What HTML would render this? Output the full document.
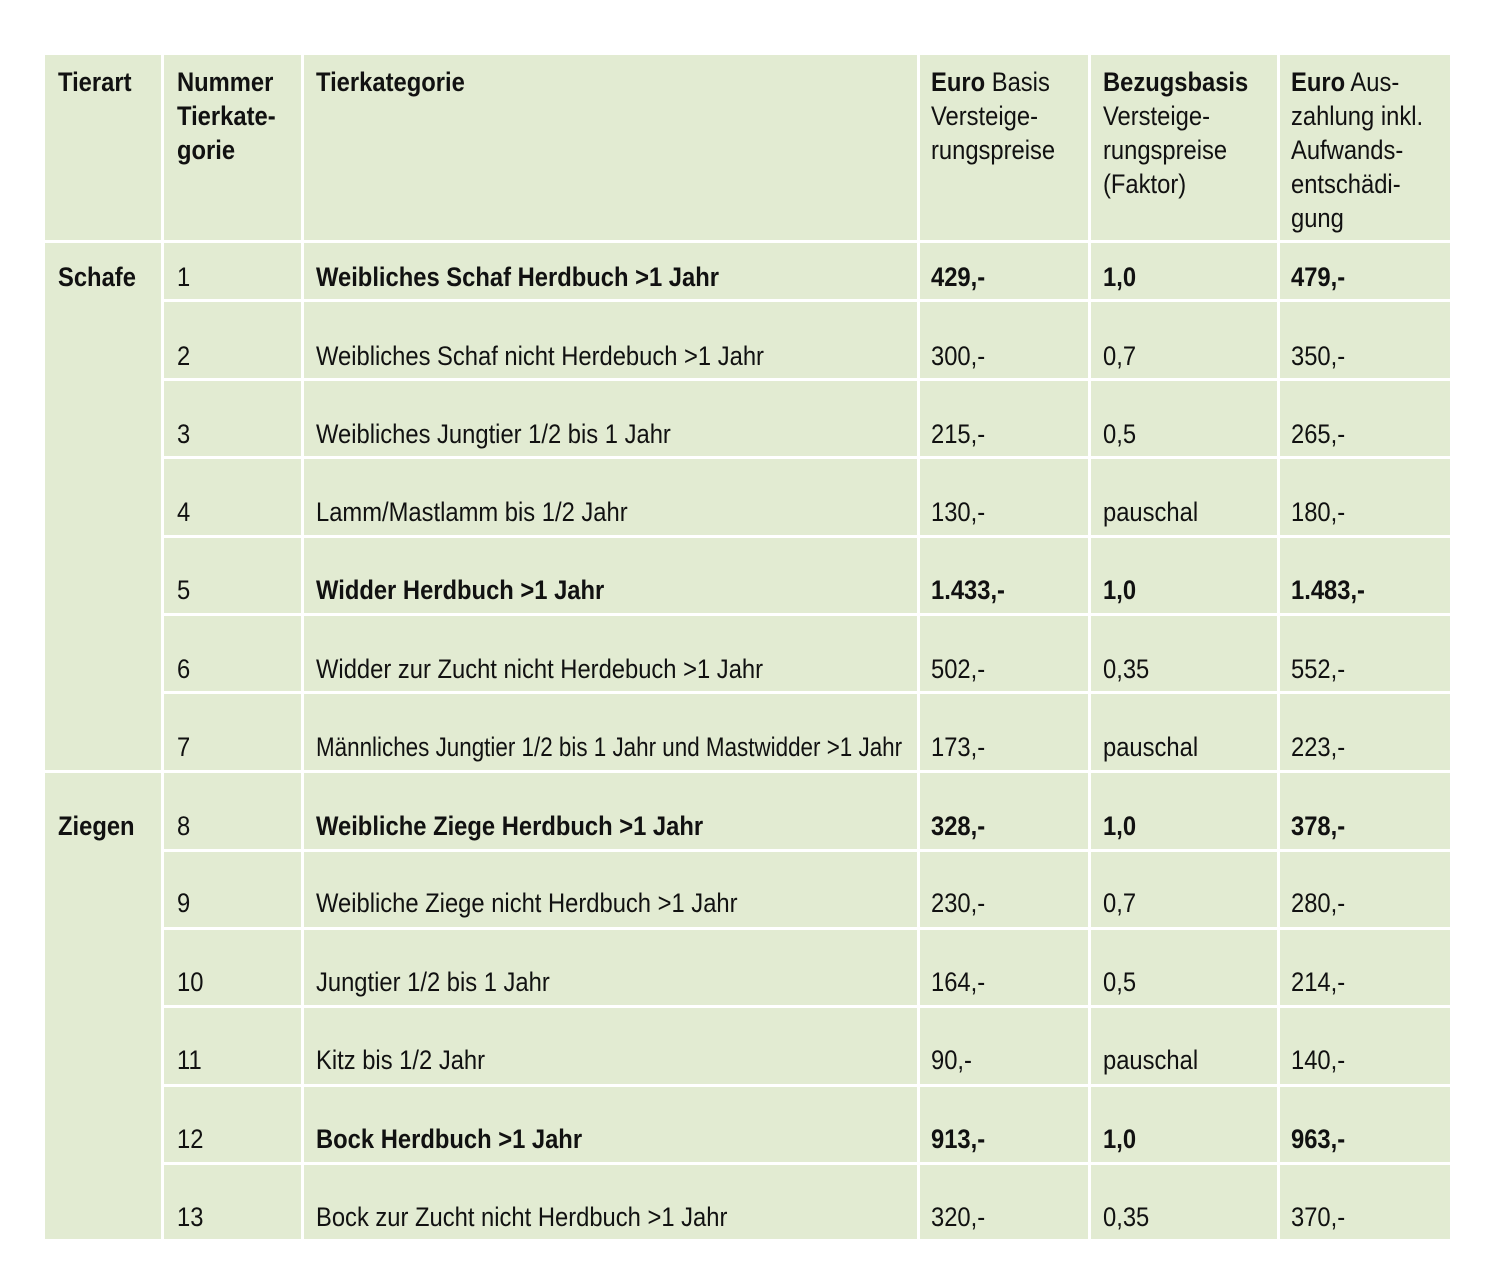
<!DOCTYPE html>
<html><head><meta charset="utf-8"><style>
body{margin:0;width:1500px;height:1288px;background:#fff;position:relative;overflow:hidden;font-family:"Liberation Sans",sans-serif;color:#111}
.bg{position:absolute;left:45px;top:55px;width:1405px;height:1184px;background:#e2ebd2}
.v{position:absolute;top:55px;height:1184px;width:3px;background:#fff}
.h{position:absolute;height:3px;background:#fff}
.t{position:absolute;font-size:27px;line-height:34px;white-space:nowrap;transform:scaleX(0.88);transform-origin:left center}
b{font-weight:bold}
</style></head><body>
<div class="bg"></div>
<div class="v" style="left:161px"></div>
<div class="v" style="left:301px"></div>
<div class="v" style="left:917px"></div>
<div class="v" style="left:1088px"></div>
<div class="v" style="left:1277px"></div>
<div class="h" style="left:45px;width:1405px;top:240px"></div>
<div class="h" style="left:161px;width:1289px;top:299px"></div>
<div class="h" style="left:161px;width:1289px;top:378px"></div>
<div class="h" style="left:161px;width:1289px;top:456px"></div>
<div class="h" style="left:161px;width:1289px;top:535px"></div>
<div class="h" style="left:161px;width:1289px;top:613px"></div>
<div class="h" style="left:161px;width:1289px;top:691px"></div>
<div class="h" style="left:45px;width:1405px;top:770px"></div>
<div class="h" style="left:161px;width:1289px;top:849px"></div>
<div class="h" style="left:161px;width:1289px;top:927px"></div>
<div class="h" style="left:161px;width:1289px;top:1005px"></div>
<div class="h" style="left:161px;width:1289px;top:1084px"></div>
<div class="h" style="left:161px;width:1289px;top:1162px"></div>

<div class="t" style="left:58px;top:65px"><b>Tierart</b></div>
<div class="t" style="left:177px;top:65px"><b>Nummer<br>Tierkate-<br>gorie</b></div>
<div class="t" style="left:316px;top:65px"><b>Tierkategorie</b></div>
<div class="t" style="left:931px;top:65px"><b>Euro</b> Basis<br>Versteige-<br>rungspreise</div>
<div class="t" style="left:1103px;top:65px"><b>Bezugsbasis</b><br>Versteige-<br>rungspreise<br>(Faktor)</div>
<div class="t" style="left:1291px;top:65px"><b>Euro</b> Aus-<br>zahlung inkl.<br>Aufwands-<br>entschädi-<br>gung</div>

<div class="t" style="left:58px;top:260px"><b>Schafe</b></div>
<div class="t" style="left:58px;top:809px"><b>Ziegen</b></div>

<div class="t" style="left:177px;top:260px">1</div><div class="t" style="left:316px;top:260px"><b>Weibliches Schaf Herdbuch &gt;1 Jahr</b></div><div class="t" style="left:931px;top:260px"><b>429,-</b></div><div class="t" style="left:1103px;top:260px"><b>1,0</b></div><div class="t" style="left:1291px;top:260px"><b>479,-</b></div>
<div class="t" style="left:177px;top:339px">2</div><div class="t" style="left:316px;top:339px">Weibliches Schaf nicht Herdebuch &gt;1 Jahr</div><div class="t" style="left:931px;top:339px">300,-</div><div class="t" style="left:1103px;top:339px">0,7</div><div class="t" style="left:1291px;top:339px">350,-</div>
<div class="t" style="left:177px;top:417px">3</div><div class="t" style="left:316px;top:417px">Weibliches Jungtier 1/2 bis 1 Jahr</div><div class="t" style="left:931px;top:417px">215,-</div><div class="t" style="left:1103px;top:417px">0,5</div><div class="t" style="left:1291px;top:417px">265,-</div>
<div class="t" style="left:177px;top:495px">4</div><div class="t" style="left:316px;top:495px">Lamm/Mastlamm bis 1/2 Jahr</div><div class="t" style="left:931px;top:495px">130,-</div><div class="t" style="left:1103px;top:495px">pauschal</div><div class="t" style="left:1291px;top:495px">180,-</div>
<div class="t" style="left:177px;top:573px">5</div><div class="t" style="left:316px;top:573px"><b>Widder Herdbuch &gt;1 Jahr</b></div><div class="t" style="left:931px;top:573px"><b>1.433,-</b></div><div class="t" style="left:1103px;top:573px"><b>1,0</b></div><div class="t" style="left:1291px;top:573px"><b>1.483,-</b></div>
<div class="t" style="left:177px;top:652px">6</div><div class="t" style="left:316px;top:652px">Widder zur Zucht nicht Herdebuch &gt;1 Jahr</div><div class="t" style="left:931px;top:652px">502,-</div><div class="t" style="left:1103px;top:652px">0,35</div><div class="t" style="left:1291px;top:652px">552,-</div>
<div class="t" style="left:177px;top:730px">7</div><div class="t" style="left:316px;top:730px;transform:scaleX(0.83)">Männliches Jungtier 1/2 bis 1 Jahr und Mastwidder &gt;1 Jahr</div><div class="t" style="left:931px;top:730px">173,-</div><div class="t" style="left:1103px;top:730px">pauschal</div><div class="t" style="left:1291px;top:730px">223,-</div>
<div class="t" style="left:177px;top:809px">8</div><div class="t" style="left:316px;top:809px"><b>Weibliche Ziege Herdbuch &gt;1 Jahr</b></div><div class="t" style="left:931px;top:809px"><b>328,-</b></div><div class="t" style="left:1103px;top:809px"><b>1,0</b></div><div class="t" style="left:1291px;top:809px"><b>378,-</b></div>
<div class="t" style="left:177px;top:886px">9</div><div class="t" style="left:316px;top:886px">Weibliche Ziege nicht Herdbuch &gt;1 Jahr</div><div class="t" style="left:931px;top:886px">230,-</div><div class="t" style="left:1103px;top:886px">0,7</div><div class="t" style="left:1291px;top:886px">280,-</div>
<div class="t" style="left:177px;top:965px">10</div><div class="t" style="left:316px;top:965px">Jungtier 1/2 bis 1 Jahr</div><div class="t" style="left:931px;top:965px">164,-</div><div class="t" style="left:1103px;top:965px">0,5</div><div class="t" style="left:1291px;top:965px">214,-</div>
<div class="t" style="left:177px;top:1043px">11</div><div class="t" style="left:316px;top:1043px">Kitz bis 1/2 Jahr</div><div class="t" style="left:931px;top:1043px">90,-</div><div class="t" style="left:1103px;top:1043px">pauschal</div><div class="t" style="left:1291px;top:1043px">140,-</div>
<div class="t" style="left:177px;top:1122px">12</div><div class="t" style="left:316px;top:1122px"><b>Bock Herdbuch &gt;1 Jahr</b></div><div class="t" style="left:931px;top:1122px"><b>913,-</b></div><div class="t" style="left:1103px;top:1122px"><b>1,0</b></div><div class="t" style="left:1291px;top:1122px"><b>963,-</b></div>
<div class="t" style="left:177px;top:1200px">13</div><div class="t" style="left:316px;top:1200px">Bock zur Zucht nicht Herdbuch &gt;1 Jahr</div><div class="t" style="left:931px;top:1200px">320,-</div><div class="t" style="left:1103px;top:1200px">0,35</div><div class="t" style="left:1291px;top:1200px">370,-</div>
</body></html>
